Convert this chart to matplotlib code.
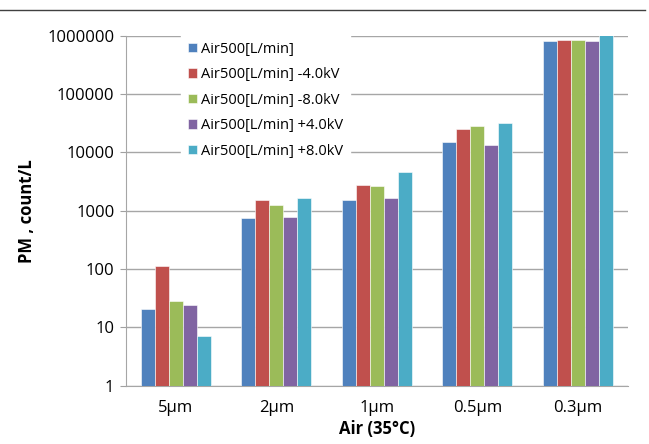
import matplotlib
matplotlib.use("Agg")
import matplotlib.pyplot as plt
from matplotlib.lines import Line2D
import numpy as np

plt.rcParams['font.family'] = ['Open Sans', 'DejaVu Sans']

categories = ["5\u00b5m", "2\u00b5m", "1\u00b5m", "0.5\u00b5m", "0.3\u00b5m"]
series_names = [
    "Air500[L/min]",
    "Air500[L/min] -4.0kV",
    "Air500[L/min] -8.0kV",
    "Air500[L/min] +4.0kV",
    "Air500[L/min] +8.0kV",
]
air500 = [21, 750, 1550, 15100, 811000]
air500_m4 = [114, 1500, 2800, 25600, 853000]
air500_m8 = [28, 1250, 2690, 28000, 853000]
air500_p4 = [24, 770, 1650, 13200, 811000]
air500_p8 = [7, 1670, 4670, 31300, 1050000]
colors = ["#4F81BD", "#C0504D", "#9BBB59", "#8064A2", "#4BACC6"]

values = [air500, air500_m4, air500_m8, air500_p4, air500_p8]

fig = plt.figure(figsize=(6.49, 4.44), dpi=100)
ax = fig.add_axes([125.5 / 649, 1 - 385.7 / 444, 502.5 / 649, (385.7 - 35.7) / 444])

x = np.arange(len(categories))
width = 0.14
for i, (vals, name, col) in enumerate(zip(values, series_names, colors)):
    ax.bar(x + (i - 2) * width, vals, width, color=col, label=name,
           edgecolor="white", linewidth=0.4, zorder=3)

ax.set_yscale("log")
ax.set_ylim(1, 1e6)
ax.set_xlim(-0.5, len(categories) - 0.5)
ax.set_yticks([1, 10, 100, 1000, 10000, 100000, 1000000])
ax.set_yticklabels(["1", "10", "100", "1000", "10000", "100000", "1000000"])
ax.minorticks_off()
ax.set_xticks(x)
ax.set_xticklabels(categories)
ax.tick_params(axis="x", length=0, labelsize=12, pad=10)
ax.tick_params(axis="y", length=4, color="#A0A0A0", labelsize=12, pad=4)
ax.grid(axis="y", color="#A6A6A6", linewidth=1, zorder=0)
for s in ["top", "right"]:
    ax.spines[s].set_visible(False)
for s in ["left", "bottom"]:
    ax.spines[s].set_color("#A6A6A6")
ax.set_ylabel("PM , count/L", fontsize=12, fontweight="bold", labelpad=8)
ax.set_xlabel("Air (35\u00b0C)", fontsize=12, fontweight="bold", labelpad=3)

leg = ax.legend(loc="upper left", bbox_to_anchor=(0.095, 1.025), fontsize=10.5,
                frameon=True, fancybox=False, edgecolor="white", framealpha=1,
                handlelength=0.6, handleheight=0.6, handletextpad=0.3,
                labelspacing=0.72, borderpad=0.5)
leg.set_zorder(5)

fig.add_artist(Line2D([0, 645 / 649], [1 - 10 / 444, 1 - 10 / 444], color="#404040", linewidth=1))

fig.savefig("out.png", dpi=100)
